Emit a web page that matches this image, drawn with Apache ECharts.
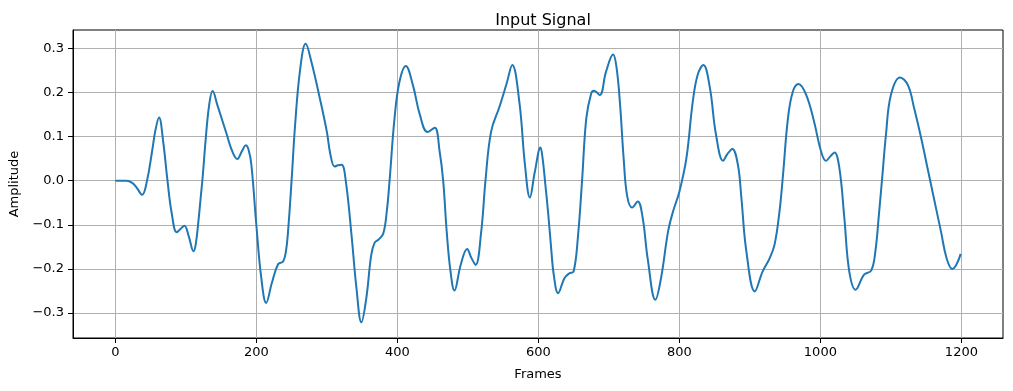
<!DOCTYPE html>
<html>
<head>
<meta charset="utf-8">
<script src="https://cdn.jsdelivr.net/npm/echarts@6/dist/echarts.min.js"></script>
<style>
html,body{margin:0;padding:0;background:#fff;}
#chart{width:1013px;height:391px;}
</style>
</head>
<body>
<div id="chart"></div>
<script>
// Frame positions and amplitudes
const frames = [0, 8, 16, 24, 30, 38, 45, 52, 57, 62, 68, 74, 80, 87, 92, 98, 104, 111, 114, 118, 121, 124, 128, 133, 138, 145, 153, 158, 165, 173, 180, 185, 189, 193, 200, 207, 214, 222, 231, 238, 242, 245, 250, 255, 262, 270, 278, 290, 300, 305, 311, 316, 321, 327, 335, 342, 349, 356, 363, 368, 373, 380, 385, 389, 396, 403, 412, 422, 432, 443, 453, 460, 465, 470, 475, 481, 490, 499, 505, 511, 519, 525, 533, 545, 555, 563, 573, 581, 588, 595, 603, 606, 610, 614, 618, 622, 628, 637, 644, 650, 656, 662, 668, 675, 679, 687, 696, 706, 711, 716, 721, 726, 733, 741, 748, 755, 766, 774, 784, 791, 800, 810, 819, 826, 834, 843, 852, 862, 868, 875, 883, 888, 895, 907, 918, 928, 935, 942, 947, 954, 961, 969, 980, 991, 1001, 1008, 1014, 1020, 1027, 1034, 1041, 1050, 1062, 1072, 1078, 1083, 1088, 1093, 1100, 1113, 1124, 1133, 1143, 1152, 1161, 1171, 1179, 1187, 1193, 1199];
const amplitude = [0, 0, 0, -0.005, -0.015, -0.032, 0.0, 0.065, 0.115, 0.143, 0.087, 0.0, -0.074, -0.117, -0.110, -0.102, -0.125, -0.160, -0.145, -0.09, -0.04, 0.01, 0.09, 0.17, 0.203, 0.17, 0.13, 0.105, 0.07, 0.049, 0.068, 0.080, 0.07, 0.036, -0.10, -0.22, -0.277, -0.232, -0.189, -0.183, -0.16, -0.115, 0.0, 0.126, 0.25, 0.310, 0.27, 0.187, 0.111, 0.06, 0.032, 0.035, 0.036, -0.002, -0.123, -0.243, -0.321, -0.266, -0.168, -0.14, -0.134, -0.12, -0.07, 0.0, 0.141, 0.224, 0.260, 0.217, 0.149, 0.110, 0.120, 0.066, 0.0, -0.115, -0.2, -0.249, -0.19, -0.155, -0.175, -0.191, -0.115, 0.0, 0.111, 0.168, 0.22, 0.262, 0.179, 0.036, -0.038, 0.02, 0.075, 0.051, -0.01, -0.075, -0.15, -0.215, -0.255, -0.221, -0.210, -0.206, -0.13, 0.0, 0.141, 0.198, 0.204, 0.194, 0.247, 0.286, 0.255, 0.17, 0.05, -0.035, -0.061, -0.047, -0.085, -0.176, -0.270, -0.221, -0.115, -0.07, -0.025, 0.051, 0.179, 0.24, 0.262, 0.213, 0.104, 0.045, 0.06, 0.072, 0.036, -0.04, -0.16, -0.251, -0.206, -0.176, -0.145, -0.070, 0.013, 0.141, 0.202, 0.219, 0.194, 0.134, 0.066, 0.045, 0.055, 0.064, 0.028, -0.085, -0.206, -0.247, -0.213, -0.204, -0.16, -0.077, 0.013, 0.104, 0.194, 0.234, 0.217, 0.164, 0.096, 0.028, -0.04, -0.115, -0.176, -0.200, -0.19, -0.166];
const xTicks = [0, 200, 400, 600, 800, 1000, 1200];
const yTicks = [-0.3, -0.2, -0.1, 0.0, 0.1, 0.2, 0.3];

const points = frames.map((f, i) => [f, amplitude[i]]);
const FONT = 'DejaVu Sans';
const fmtY = v => (Math.round(v * 10) / 10).toFixed(1).replace('-', '\u2212');
const fmtX = v => String(Math.round(v));

const chart = echarts.init(document.getElementById('chart'), null, {renderer: 'canvas'});
chart.setOption({
  animation: false,
  backgroundColor: '#ffffff',
  title: {
    text: 'Input Signal',
    left: 538, top: 8, textAlign: 'center',
    textStyle: {fontFamily: FONT, fontSize: 16, fontWeight: 'normal', color: '#000'}
  },
  grid: {left: 73, right: 10, top: 30, bottom: 53, show: true, borderColor: '#000', borderWidth: 1, backgroundColor: 'transparent'},
  xAxis: {
    type: 'value', min: -60, max: 1259,
    name: 'Frames', nameLocation: 'middle', nameGap: 30,
    nameTextStyle: {fontFamily: FONT, fontSize: 13, color: '#000'},
    axisLine: {show: true, onZero: false, lineStyle: {color: '#000', width: 1}},
    axisTick: {show: true, length: 5, customValues: xTicks, lineStyle: {color: '#000'}},
    axisLabel: {customValues: xTicks, fontFamily: FONT, fontSize: 13, color: '#000', margin: 8, formatter: fmtX},
    splitLine: {show: true, lineStyle: {color: '#b0b0b0', width: 1}}
  },
  yAxis: {
    type: 'value', min: -0.3566, max: 0.3414,
    name: 'Amplitude', nameLocation: 'middle', nameGap: 50, nameRotate: 90,
    nameTextStyle: {fontFamily: FONT, fontSize: 13, color: '#000'},
    axisLine: {show: true, onZero: false, lineStyle: {color: '#000', width: 1}},
    axisTick: {show: true, length: 5, customValues: yTicks, lineStyle: {color: '#000'}},
    axisLabel: {customValues: yTicks, fontFamily: FONT, fontSize: 13, color: '#000', margin: 9, formatter: fmtY},
    splitLine: {show: true, lineStyle: {color: '#b0b0b0', width: 1}}
  },
  series: [{
    type: 'line', data: points, smooth: 0.4, showSymbol: false,
    lineStyle: {color: '#1f77b4', width: 2}
  }]
});
</script>
</body>
</html>
